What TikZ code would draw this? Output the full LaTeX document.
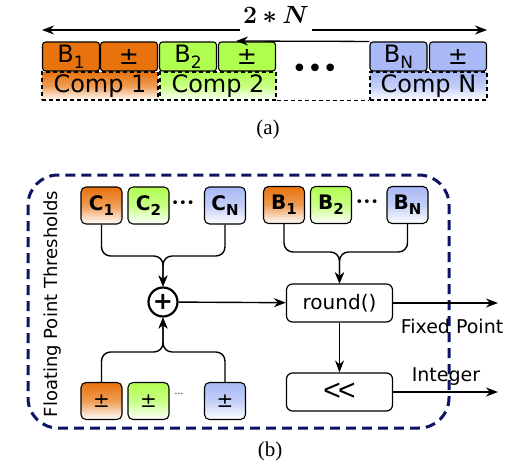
\documentclass[tikz,border=0pt]{standalone}
\usepackage[no-math]{fontspec}
\setmainfont{DejaVu Sans}
\newfontfamily\capfont{Liberation Serif}
\newfontfamily\chevfont{Liberation Sans}
\usepackage{amsmath, amssymb}
\usepackage{bm}
\usepackage{tikz}
\usetikzlibrary{positioning}
\usetikzlibrary{arrows.meta}
\usetikzlibrary{shapes}
\usetikzlibrary{calc}

\definecolor{compOrange}{RGB}{232,114,12}
\definecolor{compGreen}{RGB}{176,255,80}
\definecolor{compBlue}{RGB}{169,185,245}
\definecolor{frameNavy}{RGB}{12,20,100}

\newcommand{\subidx}[2][-6pt]{\raisebox{#1}{\fontsize{17}{17}\selectfont #2}}
\newcommand{\bsubidx}[1]{\raisebox{-5pt}{\fontsize{15}{15}\selectfont #1}}

\tikzset{
  cell/.style={draw, line width=1.1pt, rounded corners=3pt, minimum width=57pt,
    minimum height=29pt, inner sep=0pt, font=\fontsize{24}{24}\selectfont},
  comp/.style={draw, dashed, dash pattern=on 4pt off 3pt, line width=1.1pt,
    minimum height=28pt, inner sep=0pt, font=\fontsize{24}{24}\selectfont},
  thr/.style={draw, line width=1.1pt, rounded corners=5pt, minimum width=41pt,
    minimum height=37pt, inner sep=0pt, font=\bfseries\fontsize{20}{20}\selectfont},
  opbox/.style={draw, line width=1.2pt, rounded corners=6pt, minimum width=106pt,
    minimum height=38pt, inner sep=0pt, font=\fontsize{20}{20}\selectfont},
  orangegrad/.style={top color=compOrange, bottom color=white, middle color=compOrange!70},
  greengrad/.style={top color=compGreen, bottom color=white, middle color=compGreen!70},
  bluegrad/.style={top color=compBlue, bottom color=white, middle color=compBlue!70},
  dim/.style={line width=1.3pt, -{Stealth[length=12pt,width=9pt]}},
  link/.style={line width=1.4pt, rounded corners=9pt, -{Stealth[length=11pt,width=9pt]}},
  flow/.style={line width=1.4pt, -{Stealth[length=12pt,width=9pt]}},
}

\begin{document}
\begin{tikzpicture}[x=1pt, y=-1pt]
\useasboundingbox (0,0) rectangle (520,466);

% (a)
\node[cell, fill=compOrange] (b1) at (71,56.5) {B\subidx{1}};
\node[cell, fill=compOrange] (s1) at (129,56.5) {±};
\node[cell, fill=compGreen] (b2) at (188,56.5) {B\subidx{2}};
\node[cell, fill=compGreen] (s2) at (247,56.5) {±};
\node[cell, fill=compBlue] (bN) at (398.5,56.5) {B\subidx{N}};
\node[cell, fill=compBlue] (sN) at (458,56.5) {±};

\node[comp, orangegrad, minimum width=116pt] (cmp1) at (100,86) {Comp 1};
\node[comp, greengrad, minimum width=116pt] (cmp2) at (218,86) {Comp 2};
\node[comp, bluegrad, minimum width=117pt] (cmpN) at (428.5,86) {Comp N};
\draw[dashed, dash pattern=on 4pt off 3pt, line width=1.1pt] (cmp2.south east) -- (cmpN.south west);

\node (dotsA) at (315,71) {\fontsize{26}{26}\selectfont •••};

\coordinate (dimL) at (42,30);
\coordinate (dimR) at (487,30);
\node (dimlbl) at (276,15) {\fontsize{26}{26}\selectfont$\bm{2*N}$};
\draw[dim] (dimlbl.west |- dimL) -- (dimL);
\draw[dim] (dimlbl.east |- dimR) -- (dimR);
\coordinate (tipA) at (236,41);
\draw[dim] (bN.north west) -- (tipA);

\node[font=\capfont\fontsize{21}{21}\selectfont] (capa) at (268,129) {(a)};

% (b)
\draw[frameNavy, line width=3pt, dash pattern=on 10pt off 6pt, rounded corners=30pt]
  (28,175) rectangle (449,428);
\node[rotate=90, font=\fontsize{18}{18}\selectfont] (fpt) at (53,304) {Floating Point Thresholds};

\node[thr, orangegrad] (ct1) at (101.5,205.5) {C\bsubidx{1}};
\node[thr, greengrad] (ct2) at (148.5,205.5) {C\bsubidx{2}};
\node (dotsC) at (183,204) {\fontsize{13}{13}\selectfont •••};
\node[thr, bluegrad] (ctN) at (225,205.5) {C\bsubidx{N}};

\node[thr, orangegrad] (bt1) at (284,205) {B\bsubidx{1}};
\node[thr, greengrad] (bt2) at (331,205) {B\bsubidx{2}};
\node (dotsB) at (367,203) {\fontsize{13}{13}\selectfont •••};
\node[thr, bluegrad] (btN) at (407.5,205) {B\bsubidx{N}};

\node[thr, orangegrad, font=\fontsize{20}{20}\selectfont] (pm1) at (101.5,401) {±};
\node[thr, greengrad, font=\fontsize{20}{20}\selectfont] (pm2) at (148.5,401) {±};
\node (dotsP) at (179,394) {\fontsize{9}{9}\selectfont ...};
\node[thr, bluegrad, font=\fontsize{20}{20}\selectfont] (pmN) at (225,401) {±};

\node[circle, draw, line width=2.2pt, minimum size=29pt, inner sep=0pt,
  font=\bfseries\fontsize{24}{24}\selectfont] (sum) at (163,302) {+};
\node[opbox] (rnd) at (339.5,303) {round()};
\node[opbox] (shl) at (339.5,392) {\chevfont\fontsize{30}{30}\selectfont {<}\kern-3pt{<}};

\coordinate (mergeC) at ($(sum.north |- 0,256)$);
\coordinate (mergeB) at ($(rnd.north |- 0,252)$);
\coordinate (mergeP) at ($(sum.south |- 0,352)$);
\draw[link] (ct1.south) |- (mergeC) -- (sum.north);
\draw[link] (ctN.south) |- (mergeC) -- (sum.north);
\draw[link] (bt1.south) |- (mergeB) -- (rnd.north);
\draw[link] (btN.south) |- (mergeB) -- (rnd.north);
\draw[link] (pm1.north) |- (mergeP) -- (sum.south);
\draw[link] (pmN.north) |- (mergeP) -- (sum.south);

\coordinate (fixOut) at (498,303);
\coordinate (intOut) at (498,392);
\draw[flow] (sum) -- (rnd);
\draw[flow] (rnd) -- (fixOut);
\draw[flow] (rnd) -- (shl);
\draw[flow] (shl) -- (intOut);
\node[font=\fontsize{19}{19}\selectfont] (fixlbl) at (452,326) {Fixed Point};
\node[font=\fontsize{19}{19}\selectfont] (intlbl) at (446,377) {Integer};

\node[font=\capfont\fontsize{21}{21}\selectfont] (capb) at (270,451) {(b)};
\end{tikzpicture}
\end{document}
